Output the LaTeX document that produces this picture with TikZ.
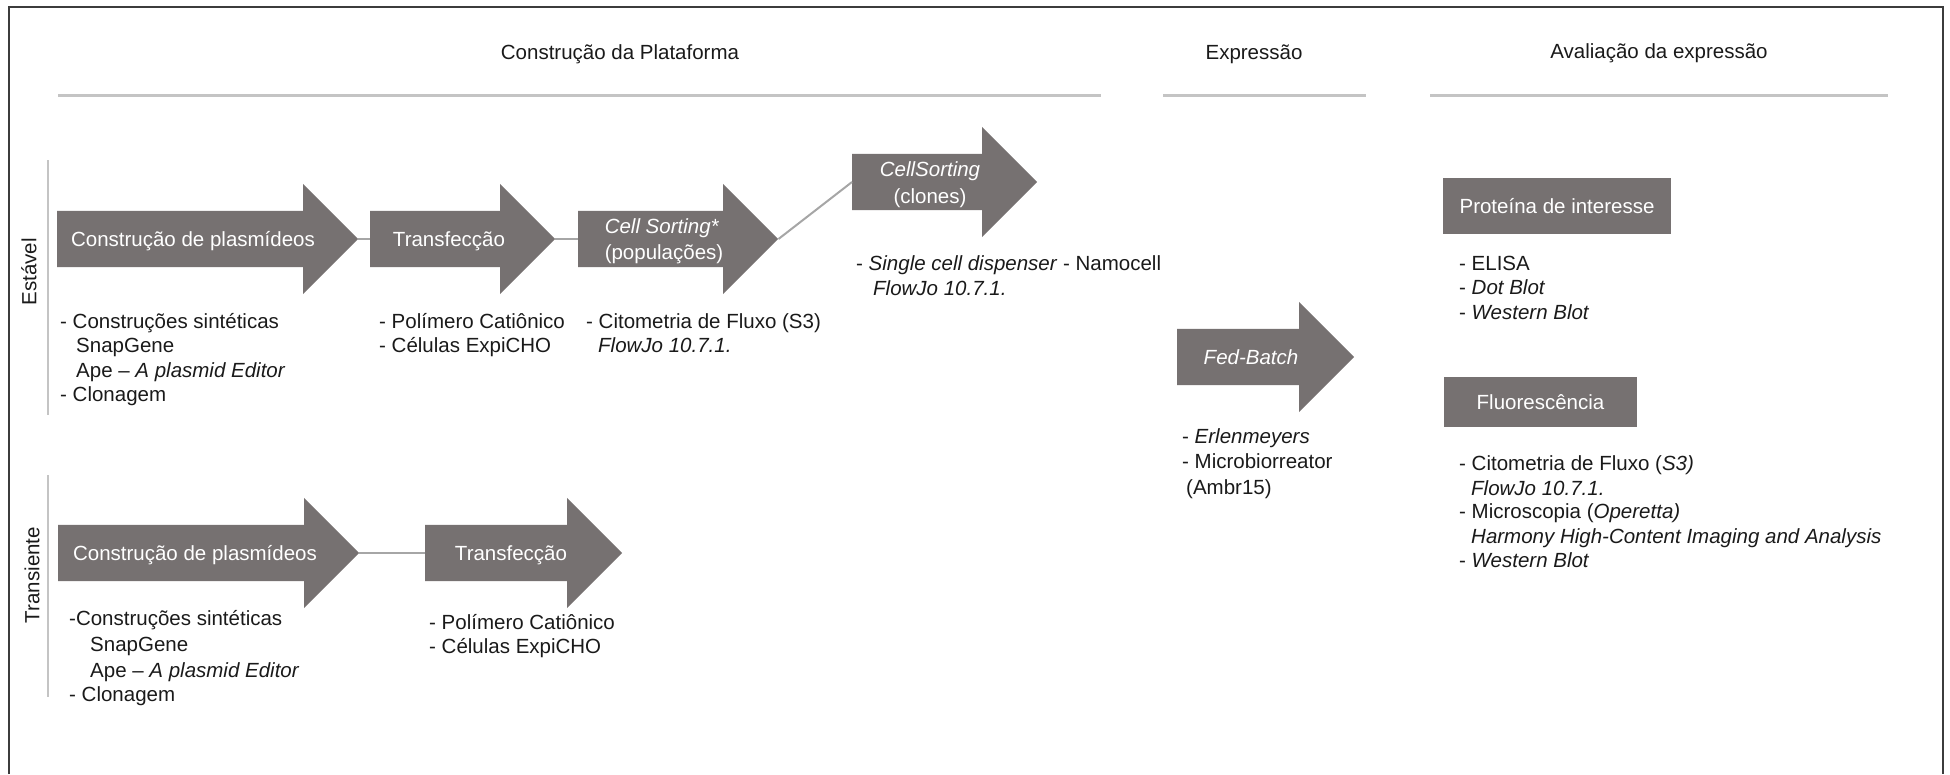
\documentclass[tikz,border=0pt]{standalone}
\usepackage{fontspec}
\setmainfont{Liberation Sans}
\usetikzlibrary{shapes.arrows}

\definecolor{arrowgray}{HTML}{767171}
\definecolor{linkgray}{HTML}{A6A6A6}
\definecolor{rulegray}{HTML}{C4C4C4}
\definecolor{framegray}{HTML}{3C3C3C}
\definecolor{inkblack}{HTML}{1A1A1A}

\begin{document}
\begin{tikzpicture}[x=1pt,y=-1pt,
  font=\fontsize{20.5}{24.6}\selectfont,
  flow/.style={single arrow, fill=arrowgray, draw=none, inner sep=0pt,
    text height=28pt, text depth=28pt, single arrow head extend=27pt,
    single arrow tip angle=90, anchor=tail},
  steplabel/.style={text=white, inner sep=0pt, anchor=base},
  boxlabel/.style={fill=arrowgray, text=white, inner sep=0pt},
  item/.style={text=inkblack, inner sep=0pt, anchor=base west},
  heading/.style={text=inkblack, inner sep=0pt, anchor=base},
  sidelabel/.style={text=inkblack, inner sep=0pt, rotate=90},
  link/.style={draw=linkgray, line width=2pt},
  headrule/.style={draw=rulegray, line width=3pt},
  siderule/.style={draw=rulegray, line width=2pt},
  frame/.style={draw=framegray, line width=2.5pt}
]
\useasboundingbox (0,0) rectangle (1950,774);

% outer frame, open at the bottom
\draw[frame] (9,774) -- (9,7) -- (1943,7) -- (1943,774);

% column headings and their rules
\node[heading] (hplat) at (620,59) {Construção da Plataforma};
\node[heading] (hexp)  at (1254,59) {Expressão};
\node[heading] (haval) at (1659,58) {Avaliação da expressão};
\draw[headrule] (58,95) -- (1101,95);
\draw[headrule] (1163,95) -- (1366,95);
\draw[headrule] (1430,95) -- (1888,95);

% row labels
\node[sidelabel] (lest) at (29,272) {Estável};
\draw[siderule] (48,160) -- (48,415);
\node[sidelabel] (ltra) at (32,575) {Transiente};
\draw[siderule] (48,475) -- (48,697);

% stable pathway
\node[flow, minimum height=301pt] (A1) at (57,239) {};
\node[flow, minimum height=185pt] (A2) at (370,239) {};
\node[flow, minimum height=200pt] (A3) at (578,239) {};
\node[flow, minimum height=185pt] (A4) at (852,182) {};
\draw[link] (A1.tip) -- (A2.tail);
\draw[link] (A2.tip) -- (A3.tail);
\draw[link] (A3.tip) -- (A4.tail);

\node[steplabel] (A1t) at (193,246) {Construção de plasmídeos};
\node[steplabel] (A2t) at (449,246) {Transfecção};
\node[steplabel] (A3ta) at (662,233) {\textit{Cell Sorting*}};
\node[steplabel] (A3tb) at (664,259) {(populações)};
\node[steplabel] (A4ta) at (930,176) {\textit{CellSorting}};
\node[steplabel] (A4tb) at (930,203) {(clones)};

\node[item] (s1a) at (60,328)   {- Construções sintéticas};
\node[item] (s1b) at (76,352.6) {SnapGene};
\node[item] (s1c) at (76,377.2) {Ape – \textit{A plasmid Editor}};
\node[item] (s1d) at (60,401.8) {- Clonagem};

\node[item] (s2a) at (379,328)   {- Polímero Catiônico};
\node[item] (s2b) at (379,352.6) {- Células ExpiCHO};

\node[item] (s3a) at (586,328)   {- Citometria de Fluxo (S3)};
\node[item] (s3b) at (598,352.6) {\textit{FlowJo 10.7.1.}};

\node[item] (s4a) at (856,270) {- \textit{Single cell dispenser} - Namocell};
\node[item] (s4b) at (873,295) {\textit{FlowJo 10.7.1.}};

% transient pathway
\node[flow, minimum height=301pt] (T1) at (58,553) {};
\node[flow, minimum height=197pt] (T2) at (425,553) {};
\draw[link] (T1.tip) -- (T2.tail);

\node[steplabel] (T1t) at (195,560) {Construção de plasmídeos};
\node[steplabel] (T2t) at (511,560) {Transfecção};

\node[item] (t1a) at (69,625) {-Construções sintéticas};
\node[item] (t1b) at (90,651) {SnapGene};
\node[item] (t1c) at (90,677) {Ape – \textit{A plasmid Editor}};
\node[item] (t1d) at (69,701) {- Clonagem};

\node[item] (t2a) at (429,629) {- Polímero Catiônico};
\node[item] (t2b) at (429,653) {- Células ExpiCHO};

% expression step
\node[flow, minimum height=177pt] (FB) at (1177,357) {};
\node[steplabel] (FBt) at (1251,364) {\textit{Fed-Batch}};
\node[item] (f1) at (1182,443) {- \textit{Erlenmeyers}};
\node[item] (f2) at (1182,468) {- Microbiorreator};
\node[item] (f3) at (1186,494) {(Ambr15)};

% evaluation of expression
\node[boxlabel, minimum width=228pt, minimum height=56pt] (P) at (1557,206) {Proteína de interesse};
\node[item] (p1) at (1459,270) {- ELISA};
\node[item] (p2) at (1459,294) {- \textit{Dot Blot}};
\node[item] (p3) at (1459,319) {- \textit{Western Blot}};

\node[boxlabel, minimum width=193pt, minimum height=50pt] (F) at (1540.5,402) {Fluorescência};
\node[item] (g1) at (1459,470) {- Citometria de Fluxo (\textit{S3)}};
\node[item] (g2) at (1471,495) {\textit{FlowJo 10.7.1.}};
\node[item] (g3) at (1459,518) {- Microscopia (\textit{Operetta)}};
\node[item] (g4) at (1471,543) {\textit{Harmony High-Content Imaging and Analysis}};
\node[item] (g5) at (1459,567) {- \textit{Western Blot}};
\end{tikzpicture}
\end{document}
